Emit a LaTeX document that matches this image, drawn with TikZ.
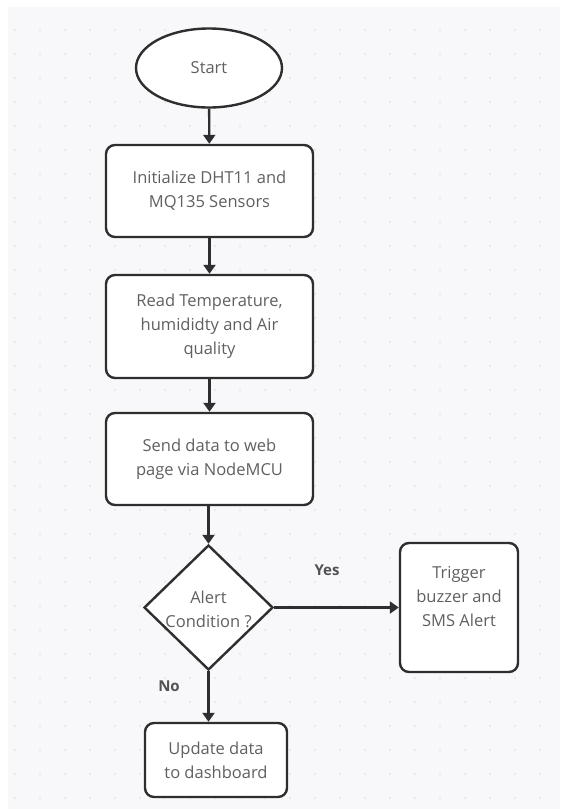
\documentclass[tikz,border=0pt]{standalone}
\usepackage{fontspec}
\setmainfont{Open Sans}
\usetikzlibrary{shapes.geometric,arrows.meta}
\definecolor{bgc}{HTML}{F8F8FB}
\definecolor{dotc}{HTML}{E4E4EA}
\definecolor{linec}{HTML}{2E2E2E}
\definecolor{txtc}{HTML}{606060}
\tikzset{
  base/.style={draw=linec, line width=2.4pt, fill=white, text=txtc, font=\fontsize{16.5}{24}\selectfont, align=center, inner sep=0pt},
  procbox/.style={base, rectangle, rounded corners=9pt},
  startnode/.style={base, ellipse},
  decision/.style={base, diamond},
  plain/.style={text=txtc, font=\fontsize{16.5}{24}\selectfont, align=center, inner sep=0pt},
  conn/.style={draw=linec, line width=2.4pt, -{Triangle[length=9pt,width=12pt]}},
  lbl/.style={text=txtc!85!black, font=\fontsize{15}{18}\selectfont\bfseries}
}
\begin{document}
\begin{tikzpicture}[x=1pt,y=-1pt]
\useasboundingbox (0,0) rectangle (560,809);
\fill[white] (0,0) rectangle (560,809);
\fill[bgc] (8,7) rectangle (560,809);
\foreach \i in {0,...,21}{\foreach \j in {0,...,32}{
  \fill[dotc] (15+25*\i,30+24*\j) circle (1.1pt);}}
\node[startnode, minimum width=146pt, minimum height=79pt] (start) at (209,68) {Start};
\node[procbox, minimum width=207pt, minimum height=92pt] (init) at (209.5,191) {Initialize DHT11 and\\MQ135 Sensors};
\node[procbox, minimum width=207pt, minimum height=103pt] (read) at (209.5,326.5) {Read Temperature,\\humididty and Air\\quality};
\node[procbox, minimum width=207pt, minimum height=92pt] (send) at (209.5,459) {Send data to web\\page via NodeMCU};
\node[decision, minimum width=129pt, minimum height=125pt] (dec) at (208.5,607.5) {};
\node[plain] (dectxt) at (208.5,609) {Alert\\Condition ?};
\node[procbox, minimum width=118pt, minimum height=129pt] (trig) at (459,607.5) {};
\node[plain] (trigtxt) at (459,597) {Trigger\\buzzer and\\SMS Alert};
\node[procbox, minimum width=142pt, minimum height=74pt] (upd) at (216,760) {Update data\\to dashboard};
\draw[conn] (start) -- (init);
\draw[conn] (init) -- (read);
\draw[conn] (read) -- (send);
\draw[conn] (send.south -| dec.north) -- (dec.north);
\draw[conn] (dec.east) -- (trig.west);
\draw[conn] (dec.south) -- (dec.south |- upd.north);
\node[lbl] (yes) at (327,570) {Yes};
\node[lbl] (no) at (169,686) {No};
\end{tikzpicture}
\end{document}
